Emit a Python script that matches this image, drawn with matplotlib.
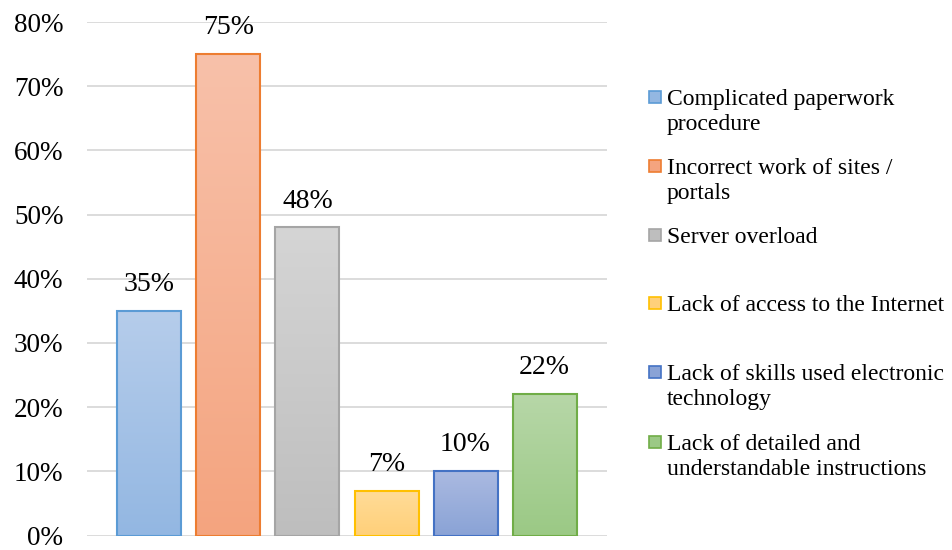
import matplotlib
matplotlib.use("Agg")
from matplotlib import pyplot as plt
from matplotlib.colors import LinearSegmentedColormap
from matplotlib.patches import Rectangle
import numpy as np

# data
labels = [
    "Complicated paperwork\nprocedure",
    "Incorrect work of sites /\nportals",
    "Server overload",
    "Lack of access to the Internet",
    "Lack of skills used electronic\ntechnology",
    "Lack of detailed and\nunderstandable instructions",
]
values = [0.35, 0.75, 0.48, 0.07, 0.10, 0.22]
yticks = [0.0, 0.1, 0.2, 0.3, 0.4, 0.5, 0.6, 0.7, 0.8]

edge_colors = ["#5b9bd5", "#ed7d31", "#a5a5a5", "#ffc000", "#4472c4", "#70ad47"]
top_colors = ["#b6cdeb", "#f8c1aa", "#d5d5d5", "#ffdc98", "#abbae1", "#b7d7a8"]
bottom_colors = ["#93b7e2", "#f4a47f", "#bebebe", "#ffd07a", "#8aa3d6", "#9bc985"]

plt.rcParams['font.family'] = ['Liberation Serif', 'DejaVu Serif']

fig = plt.figure(figsize=(9.52, 5.5), dpi=100)
ax = fig.add_axes([87 / 952, 1 - 535.5 / 550, (607 - 87) / 952, (535.5 - 22) / 550])

x = np.arange(len(values))
bars = ax.bar(x, values, width=0.81, facecolor='none', edgecolor=edge_colors,
              linewidth=1.5, zorder=3)

# vertical gradient inside each bar
grad = np.linspace(1, 0, 256).reshape(-1, 1)
for b, c_top, c_bot in zip(bars, top_colors, bottom_colors):
    cmap = LinearSegmentedColormap.from_list("g", [c_bot, c_top])
    x0, y0 = b.get_x(), b.get_y()
    w, h = b.get_width(), b.get_height()
    im = ax.imshow(grad, cmap=cmap, aspect='auto', extent=[x0, x0 + w, y0, y0 + h],
                   zorder=2, interpolation='bilinear')
    im.set_clip_path(b)

for xi, v in zip(x, values):
    ax.annotate(f"{v * 100:.0f}%", (xi, v), xytext=(0, 19), textcoords='offset points',
                ha='center', va='center', fontsize=20)

ax.set_xlim(2.5 - 3.29, 2.5 + 3.29)
ax.set_ylim(0, 0.8)
ax.set_yticks(yticks)
ax.set_yticklabels([f"{t * 100:.0f}%" for t in yticks], fontsize=19.5)
for t in ax.get_yticklabels():
    t.set_va('center_baseline')
ax.set_xticks([])
ax.tick_params(axis='y', length=0, pad=17)
ax.grid(axis='y', color='#d9d9d9', linewidth=1.3, zorder=0)
ax.set_axisbelow(True)
for s in ax.spines.values():
    s.set_visible(False)

# legend drawn Excel-style: evenly spaced entries, marker on first line
leg_y = [97, 166, 235, 303, 372, 442]
for lab, ec, ct, cb, ly in zip(labels, edge_colors, top_colors, bottom_colors, leg_y):
    yf = 1 - ly / 550
    fig.patches.append(Rectangle((649 / 952, yf - 6 / 550), 12 / 952, 12 / 550,
                                 transform=fig.transFigure, facecolor=cb,
                                 edgecolor=ec, linewidth=1.2))
    fig.text(667 / 952, 1 - (ly - 8) / 550, lab, ha='left', va='top',
             fontsize=17, linespacing=1.25)

fig.savefig("out.png", dpi=100)
